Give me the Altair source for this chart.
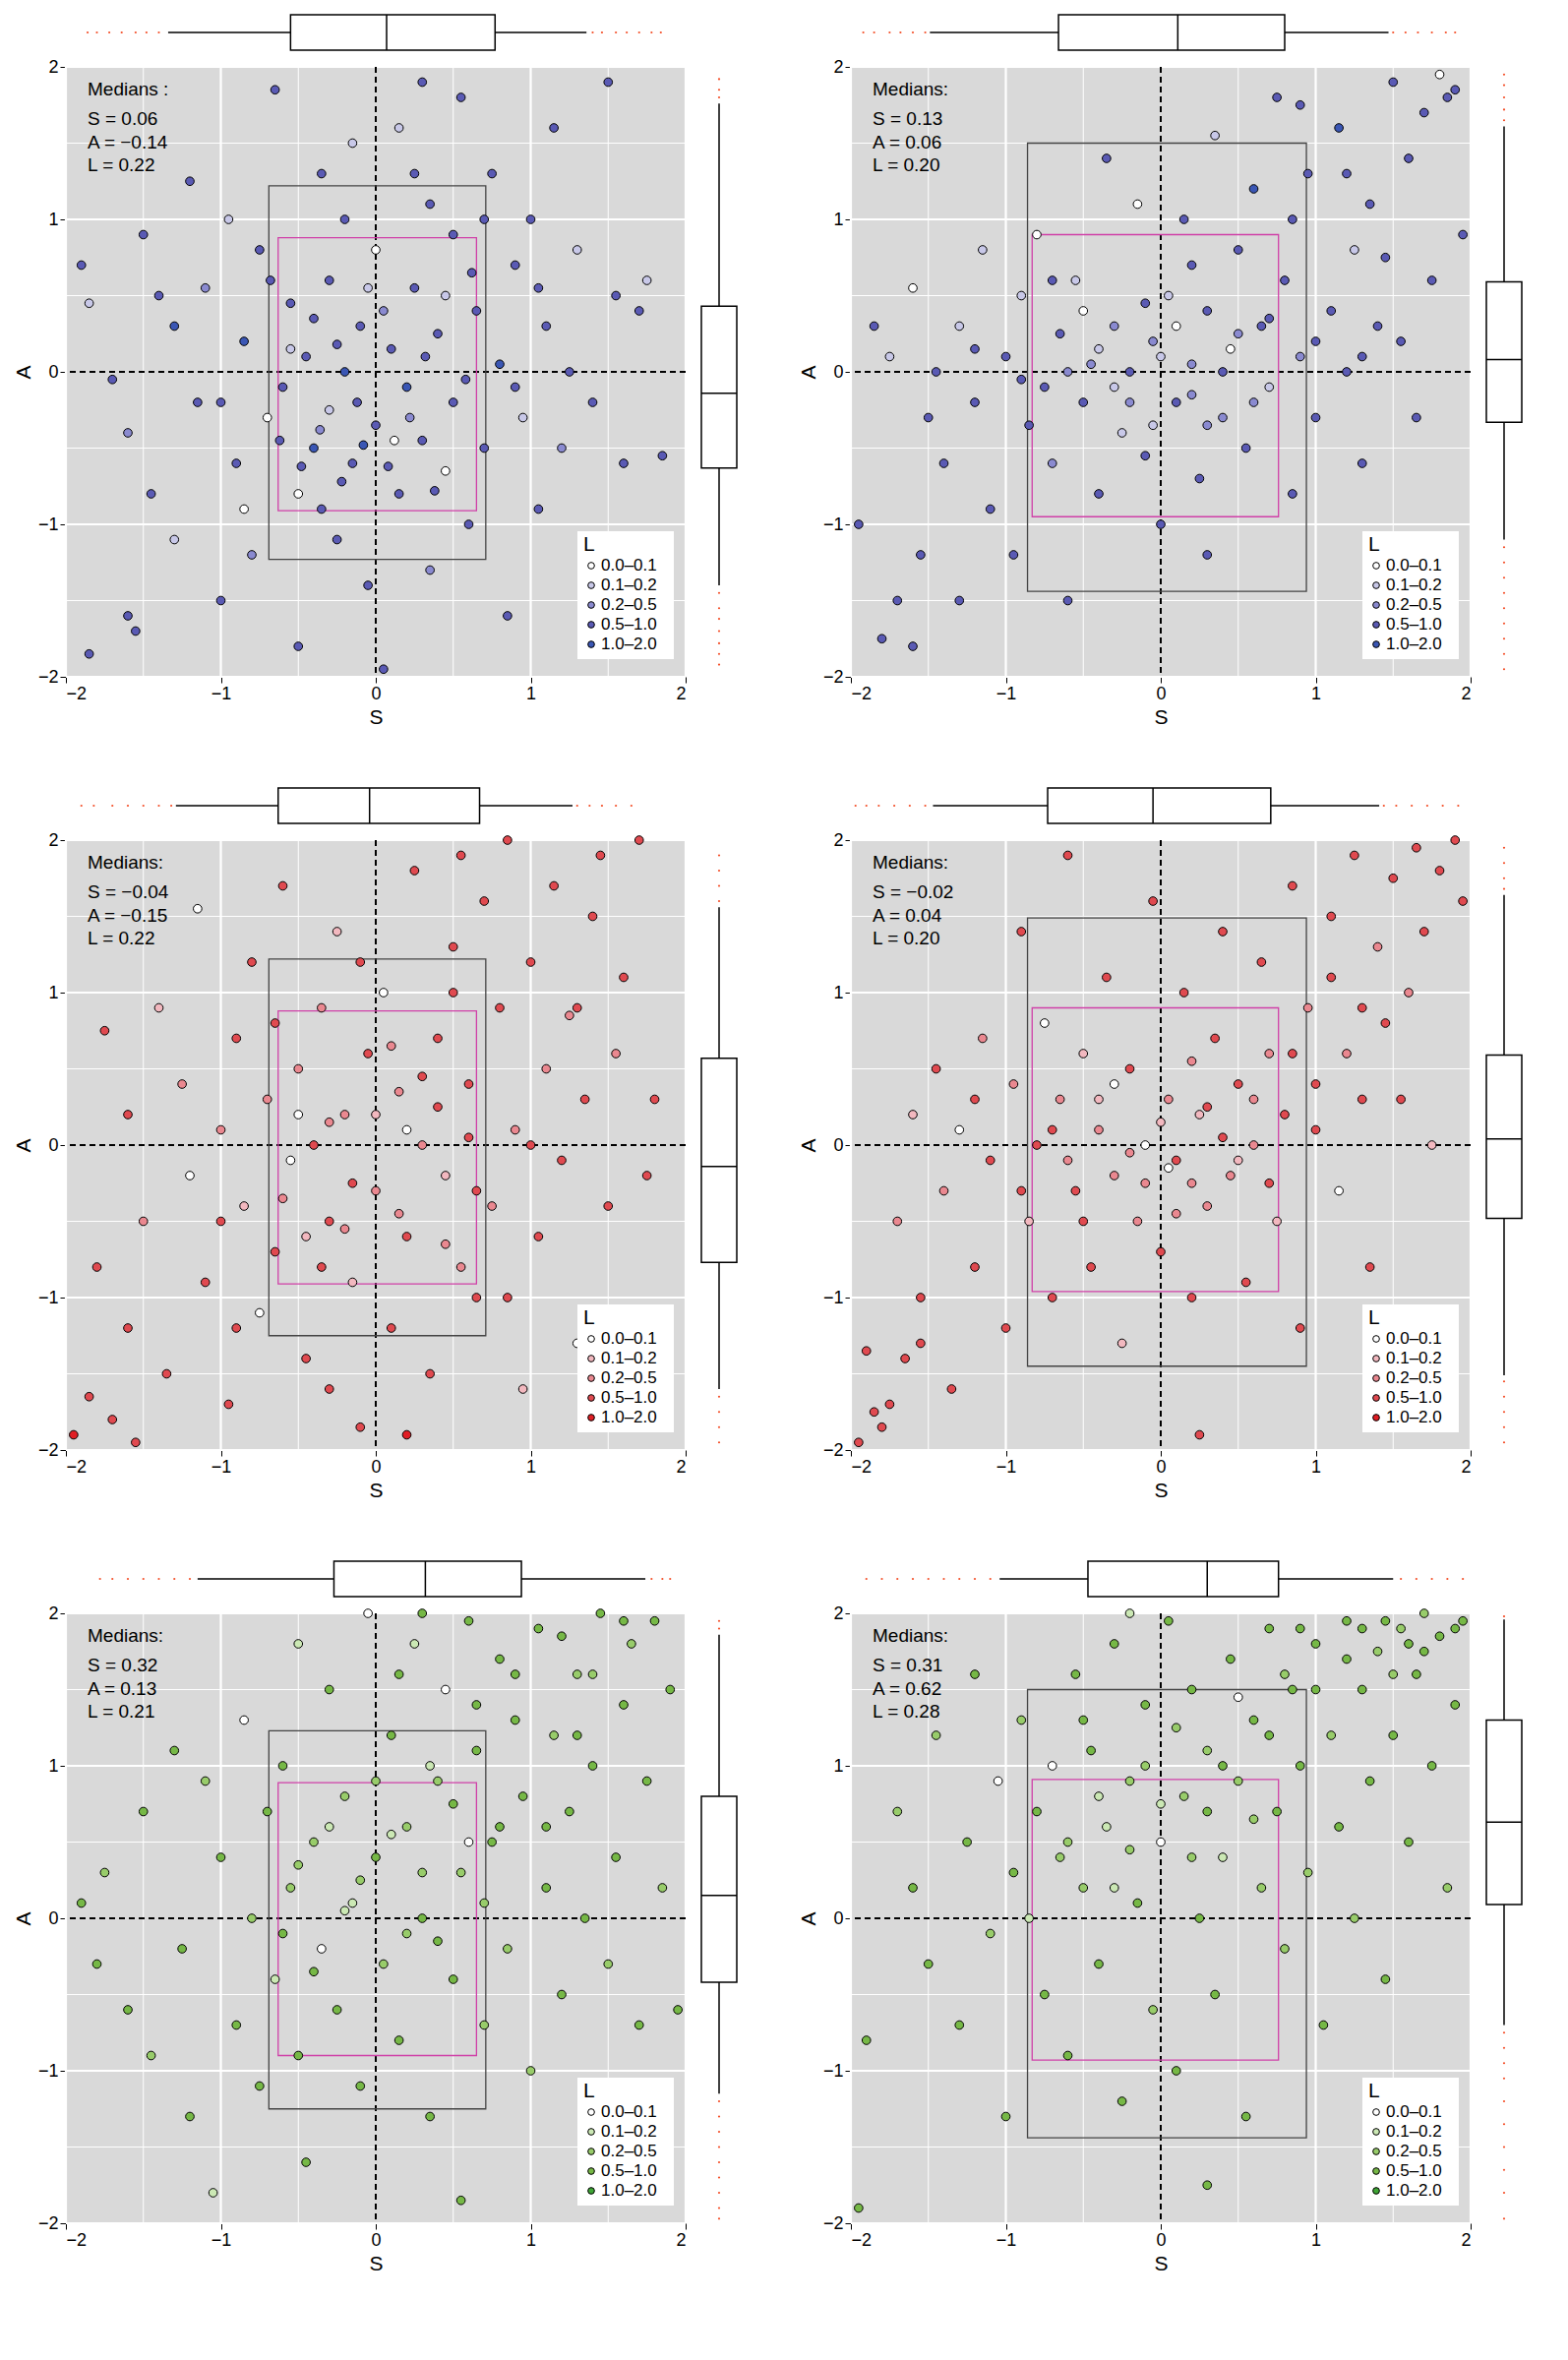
import altair as alt
import pandas as pd

W, H = 630, 620
FONT = "Liberation Sans"

BINS = ["0.0–0.1", "0.1–0.2", "0.2–0.5", "0.5–1.0", "1.0–2.0"]
BLUES = ["#ffffff", "#c8c8e8", "#8a8ad0", "#5a5ab4", "#3a56b4"]
REDS = ["#ffffff", "#f2b8bf", "#ea8890", "#e04a50", "#e01e24"]
GREENS = ["#ffffff", "#cbe8b4", "#98cc6a", "#76b846", "#3fa535"]

# points: (S, A, L-bin index)
P1 = [(-1.85,-1.85,3),(-1.6,-1.6,3),(-1.55,-1.7,3),(-1.9,0.7,3),(-1.85,0.45,1),(-1.7,-0.05,3),(-1.6,-0.4,2),(-1.5,0.9,3),(-1.45,-0.8,3),(-1.3,0.3,4),(-1.3,-1.1,1),(-1.2,1.25,3),(-1.15,-0.2,3),(-1.1,0.55,2),(-1.0,-1.5,3),(-0.95,1.0,1),(-0.9,-0.6,3),(-0.85,0.2,4),(-0.8,-1.2,2),(-0.75,0.8,3),(-0.7,-0.3,0),(-0.65,1.85,3),(-0.6,-0.1,3),(-0.55,0.45,3),(-0.5,-0.8,0),(-0.5,-1.8,3),(-0.45,0.1,3),(-0.4,-0.5,4),(-0.35,1.3,3),(-0.3,-0.25,1),(-0.3,0.6,3),(-0.25,-1.1,3),(-0.2,0.0,4),(-0.15,1.5,1),(-0.15,-0.6,3),(-0.1,0.3,3),(-0.05,-1.4,3),(0.0,0.8,0),(0.0,-0.35,3),(0.05,-1.95,3),(0.1,0.15,3),(0.15,1.6,1),(0.15,-0.8,3),(0.2,-0.1,4),(0.25,0.55,3),(0.3,-0.45,3),(0.35,1.1,3),(0.35,-1.3,2),(0.4,0.25,3),(0.45,-0.65,0),(0.5,0.9,3),(0.5,-0.2,3),(0.55,1.8,3),(0.6,-1.0,3),(0.65,0.4,3),(0.7,-0.5,3),(0.75,1.3,3),(0.8,0.05,4),(0.85,-1.6,3),(0.9,0.7,3),(0.95,-0.3,1),(1.0,1.0,3),(1.05,-0.9,3),(1.1,0.3,3),(1.15,1.6,3),(1.2,-0.5,2),(1.25,0.0,3),(1.3,0.8,1),(1.35,-1.2,3),(1.4,-0.2,3),(1.5,1.9,3),(1.55,0.5,3),(1.6,-0.6,3),(1.7,0.4,3),(1.75,0.6,1),(1.85,-0.55,3),(0.3,1.9,3),(-0.05,0.55,1),
      (-0.62,-0.45,3),(-0.48,-0.62,3),(-0.36,-0.38,2),(-0.22,-0.72,3),(-0.08,-0.48,4),(0.08,-0.62,3),(0.22,-0.3,2),(0.38,-0.78,3),(-0.55,0.15,1),(-0.4,0.35,3),(-0.25,0.18,3),(0.05,0.4,2),(0.32,0.1,3),(0.58,-0.05,3),(0.62,0.65,3),(-0.68,0.6,3),(0.45,0.5,1),(-0.12,-0.2,3),(0.12,-0.45,0),(-0.35,-0.9,3),(0.9,-0.1,3),(1.05,0.55,3),(-1.0,-0.2,3),(-0.85,-0.9,0),(0.7,1.0,3),(-0.2,1.0,3),(0.25,1.3,3),(-1.4,0.5,3)]
P2 = [(-1.95,-1.0,3),(-1.8,-1.75,3),(-1.7,-1.5,3),(-1.6,-1.8,3),(-1.55,-1.2,3),(-1.5,-0.3,3),(-1.85,0.3,3),(-1.75,0.1,1),(-1.6,0.55,0),(-1.45,0.0,3),(-1.4,-0.6,3),(-1.3,0.3,1),(-1.3,-1.5,3),(-1.2,-0.2,3),(-1.15,0.8,1),(-1.1,-0.9,3),(-1.0,0.1,3),(-0.95,-1.2,3),(-0.9,0.5,1),(-0.85,-0.35,3),(-0.8,0.9,0),(-0.75,-0.1,3),(-0.7,-0.6,2),(-0.65,0.25,3),(-0.6,-1.5,3),(-0.55,0.6,1),(-0.5,-0.2,3),(-0.45,0.05,2),(-0.4,-0.8,3),(-0.35,1.4,3),(-0.3,0.3,2),(-0.25,-0.4,1),(-0.2,0.0,3),(-0.15,1.1,0),(-0.1,-0.55,3),(-0.05,0.2,2),(0.0,-1.0,3),(0.05,0.5,1),(0.1,-0.2,3),(0.15,1.0,3),(0.2,0.05,2),(0.25,-0.7,3),(0.3,0.4,3),(0.35,1.55,1),(0.4,-0.3,2),(0.45,0.15,0),(0.5,0.8,3),(0.55,-0.5,3),(0.6,1.2,4),(0.65,0.3,3),(0.7,-0.1,1),(0.75,1.8,3),(0.8,0.6,3),(0.85,-0.8,3),(0.9,0.1,2),(0.95,1.3,3),(1.0,-0.3,3),(1.1,0.4,3),(1.15,1.6,4),(1.2,0.0,3),(1.25,0.8,1),(1.3,-0.6,3),(1.35,1.1,3),(1.4,0.3,3),(1.5,1.9,3),(1.5,-1.3,0),(1.55,0.2,3),(1.6,1.4,3),(1.65,-0.3,3),(1.7,1.7,3),(1.75,0.6,3),(1.8,1.95,0),(1.85,1.8,3),(1.9,1.85,3),(1.95,0.9,3),(0.9,1.75,3),(0.3,-1.2,3),
      (-0.6,0.0,2),(-0.4,0.15,1),(-0.2,-0.2,2),(0.0,0.1,1),(0.2,-0.15,2),(0.4,0.0,3),(0.6,-0.2,2),(-0.5,0.4,0),(0.1,0.3,0),(0.5,0.25,2),(-0.3,-0.1,1),(0.3,-0.35,2),(0.7,0.35,3),(-0.1,0.45,3),(1.0,0.2,3),(1.3,0.1,3),(-1.2,0.15,3),(-0.9,-0.05,3),(0.85,1.0,3),(0.2,0.7,3),(-0.7,0.6,3),(1.45,0.75,3),(1.2,1.3,3),(-0.05,-0.35,1)]
P3 = [(-1.95,-1.9,4),(-1.85,-1.65,3),(-1.7,-1.8,3),(-1.6,-1.2,3),(-1.55,-1.95,3),(-1.8,-0.8,3),(-1.75,0.75,3),(-1.6,0.2,3),(-1.5,-0.5,2),(-1.4,0.9,1),(-1.35,-1.5,3),(-1.25,0.4,2),(-1.2,-0.2,0),(-1.15,1.55,0),(-1.1,-0.9,3),(-1.0,0.1,2),(-0.95,-1.7,3),(-0.9,0.7,3),(-0.85,-0.4,1),(-0.8,1.2,3),(-0.75,-1.1,0),(-0.7,0.3,2),(-0.65,-0.7,3),(-0.6,1.7,3),(-0.55,-0.1,0),(-0.5,0.5,2),(-0.45,-1.4,3),(-0.4,0.0,3),(-0.35,0.9,2),(-0.3,-0.5,3),(-0.25,1.4,1),(-0.2,0.2,2),(-0.15,-0.9,1),(-0.1,-1.85,3),(-0.05,0.6,3),(0.0,-0.3,2),(0.05,1.0,0),(0.1,-1.2,3),(0.15,0.35,2),(0.2,-0.6,3),(0.25,1.8,3),(0.3,0.0,2),(0.35,-1.5,3),(0.4,0.7,3),(0.45,-0.2,1),(0.5,1.3,3),(0.55,-0.8,2),(0.6,0.4,3),(0.65,-1.0,3),(0.7,1.6,3),(0.75,-0.4,2),(0.8,0.9,3),(0.85,2.0,3),(0.9,0.1,2),(0.95,-1.6,1),(1.0,1.2,3),(1.05,-0.6,3),(1.1,0.5,2),(1.15,1.7,3),(1.2,-0.1,3),(1.25,0.85,2),(1.3,-1.3,0),(1.35,0.3,3),(1.4,1.5,3),(1.45,1.9,3),(1.5,-0.4,3),(1.55,0.6,2),(1.6,1.1,3),(1.7,2.0,3),(1.75,-0.2,3),(1.8,0.3,3),(0.2,-1.9,4),(-0.3,-1.6,3),(0.55,1.9,3),
      (-0.6,-0.35,2),(-0.45,-0.6,1),(-0.3,0.15,2),(-0.15,-0.25,3),(0.0,0.2,1),(0.15,-0.45,2),(0.3,0.45,3),(0.45,-0.65,2),(0.6,0.05,3),(-0.5,0.2,0),(0.2,0.1,0),(-0.2,-0.55,2),(0.4,0.25,3),(-0.65,0.8,3),(0.1,0.65,2),(-0.35,-0.8,3),(0.65,-0.3,3),(-1.0,-0.5,3),(1.0,0.0,3),(0.85,-1.0,3),(-0.9,-1.2,3),(0.5,1.0,3),(-0.1,1.2,3),(1.3,0.9,3)]
P4 = [(-1.95,-1.95,3),(-1.85,-1.75,3),(-1.8,-1.85,3),(-1.75,-1.7,3),(-1.9,-1.35,3),(-1.65,-1.4,3),(-1.7,-0.5,2),(-1.6,0.2,1),(-1.55,-1.0,3),(-1.45,0.5,3),(-1.4,-0.3,2),(-1.35,-1.6,3),(-1.3,0.1,0),(-1.2,-0.8,3),(-1.15,0.7,2),(-1.1,-0.1,3),(-1.0,-1.2,3),(-0.95,0.4,2),(-0.9,1.4,3),(-0.85,-0.5,1),(-0.8,0.0,3),(-0.75,0.8,0),(-0.7,-1.0,3),(-0.65,0.3,2),(-0.6,1.9,3),(-0.55,-0.3,3),(-0.5,0.6,1),(-0.45,-0.8,3),(-0.4,0.1,2),(-0.35,1.1,3),(-0.3,-0.2,2),(-0.25,-1.3,1),(-0.2,0.5,3),(-0.15,-0.5,2),(-0.1,0.0,0),(-0.05,1.6,3),(0.0,-0.7,3),(0.05,0.3,2),(0.1,-0.1,3),(0.15,1.0,3),(0.2,-1.0,3),(0.25,0.2,1),(0.3,-0.4,2),(0.35,0.7,3),(0.4,1.4,3),(0.45,-0.2,2),(0.5,0.4,3),(0.55,-0.9,3),(0.6,0.0,2),(0.65,1.2,3),(0.7,0.6,2),(0.75,-0.5,1),(0.8,0.2,3),(0.85,1.7,3),(0.9,-1.2,3),(0.95,0.9,2),(1.0,0.1,3),(1.1,1.5,3),(1.15,-0.3,0),(1.2,0.6,2),(1.25,1.9,3),(1.3,0.9,3),(1.35,-0.8,3),(1.4,1.3,2),(1.5,1.75,3),(1.55,0.3,3),(1.6,1.0,2),(1.65,1.95,3),(1.7,1.4,3),(1.75,0.0,1),(1.8,1.8,3),(1.9,2.0,3),(1.95,1.6,3),(0.25,-1.9,3),(-1.55,-1.3,3),
      (-0.6,-0.1,2),(-0.4,0.3,1),(-0.2,-0.05,2),(0.0,0.15,1),(0.2,-0.25,2),(0.4,0.05,3),(0.6,0.3,2),(-0.5,-0.5,3),(0.1,-0.45,2),(0.5,-0.1,1),(-0.3,0.4,0),(0.3,0.25,3),(0.7,-0.25,3),(-0.1,-0.25,2),(1.0,0.4,3),(1.3,0.3,3),(-1.2,0.3,3),(-0.9,-0.3,3),(0.85,0.6,3),(0.2,0.55,2),(-0.7,0.1,3),(1.45,0.8,3),(1.1,1.1,3),(0.05,-0.15,0)]
P5 = [(-1.9,0.1,3),(-1.8,-0.3,3),(-1.75,0.3,2),(-1.6,-0.6,3),(-1.5,0.7,3),(-1.45,-0.9,2),(-1.3,1.1,3),(-1.25,-0.2,3),(-1.2,-1.3,3),(-1.1,0.9,2),(-1.05,-1.8,1),(-1.0,0.4,3),(-0.9,-0.7,3),(-0.85,1.3,0),(-0.8,0.0,2),(-0.75,-1.1,3),(-0.7,0.7,3),(-0.65,-0.4,1),(-0.6,1.0,3),(-0.55,0.2,2),(-0.5,-0.9,3),(-0.45,-1.6,3),(-0.4,0.5,2),(-0.35,-0.2,0),(-0.3,1.5,3),(-0.25,-0.6,3),(-0.2,0.8,2),(-0.15,0.1,1),(-0.1,-1.1,3),(-0.05,2.0,0),(0.0,0.4,3),(0.05,-0.3,2),(0.1,1.2,3),(0.15,-0.8,3),(0.2,0.6,2),(0.25,1.8,1),(0.3,0.0,3),(0.35,-1.3,3),(0.4,0.9,2),(0.45,1.5,0),(0.5,-0.4,3),(0.55,0.3,2),(0.6,1.95,3),(0.65,1.1,3),(0.7,-0.7,2),(0.75,0.5,3),(0.8,1.7,3),(0.85,-0.2,2),(0.9,1.3,3),(0.95,0.8,3),(1.0,-1.0,2),(1.05,1.9,3),(1.1,0.2,3),(1.15,1.2,2),(1.2,-0.5,3),(1.25,0.7,3),(1.3,1.6,2),(1.35,0.0,3),(1.4,1.0,3),(1.45,2.0,3),(1.5,-0.3,2),(1.55,0.4,3),(1.6,1.4,3),(1.65,1.8,2),(1.7,-0.7,3),(1.75,0.9,3),(1.8,1.95,3),(1.85,0.2,2),(1.9,1.5,3),(1.95,-0.6,3),(0.55,-1.85,3),(0.3,2.0,3),(-0.5,1.8,1),
      (-0.5,0.35,2),(-0.3,0.6,1),(-0.1,0.25,2),(0.1,0.55,1),(0.3,0.3,2),(0.5,0.75,3),(0.7,0.1,2),(-0.4,-0.35,3),(0.2,-0.1,2),(0.6,0.5,0),(-0.2,0.05,1),(0.4,-0.15,3),(0.8,0.6,3),(0.0,0.9,2),(1.1,0.6,3),(1.3,1.2,3),(0.9,1.6,3),(1.2,1.85,3),(1.6,1.95,3),(1.4,1.6,2),(-0.6,-0.1,3),(0.65,1.4,3),(0.35,1.0,1),(0.15,1.6,3)]
P6 = [(-1.95,-1.9,3),(-1.9,-0.8,3),(-1.7,0.7,2),(-1.6,0.2,3),(-1.5,-0.3,3),(-1.45,1.2,2),(-1.3,-0.7,3),(-1.25,0.5,3),(-1.2,1.6,3),(-1.1,-0.1,2),(-1.05,0.9,0),(-1.0,-1.3,3),(-0.95,0.3,3),(-0.9,1.3,2),(-0.85,0.0,1),(-0.8,0.7,3),(-0.75,-0.5,3),(-0.7,1.0,0),(-0.65,0.4,2),(-0.6,-0.9,3),(-0.55,1.6,3),(-0.5,0.2,2),(-0.45,1.1,3),(-0.4,-0.3,3),(-0.35,0.6,1),(-0.3,1.8,3),(-0.25,-1.2,3),(-0.2,0.9,2),(-0.15,0.1,3),(-0.1,1.4,3),(-0.05,-0.6,2),(0.0,0.5,0),(0.05,1.95,3),(0.1,-1.0,3),(0.15,0.8,2),(0.2,1.5,3),(0.25,0.0,3),(0.3,1.1,2),(0.35,-0.5,3),(0.4,0.4,1),(0.45,1.7,3),(0.5,0.9,2),(0.55,-1.3,3),(0.6,1.3,3),(0.65,0.2,2),(0.7,1.9,3),(0.75,0.7,3),(0.8,-0.2,2),(0.85,1.5,3),(0.9,1.0,3),(0.95,0.3,2),(1.0,1.8,3),(1.05,-0.7,3),(1.1,1.2,2),(1.15,0.6,3),(1.2,1.95,3),(1.25,0.0,2),(1.3,1.5,3),(1.35,0.9,3),(1.4,1.75,2),(1.45,-0.4,3),(1.5,1.2,3),(1.55,1.9,2),(1.6,0.5,3),(1.65,1.6,3),(1.7,2.0,2),(1.75,1.0,3),(1.8,1.85,3),(1.85,0.2,2),(1.9,1.4,3),(1.95,1.95,3),(0.3,-1.75,3),(-0.2,2.0,1),(1.35,-1.1,3),
      (-0.6,0.5,2),(-0.4,0.8,1),(-0.2,0.45,2),(0.0,0.75,1),(0.2,0.4,2),(0.4,1.0,3),(0.6,0.65,2),(-0.5,1.3,3),(0.1,1.25,2),(0.5,1.45,0),(-0.3,0.2,1),(0.3,0.7,3),(0.7,1.2,3),(-0.1,1.0,2),(1.0,1.5,3),(1.3,1.9,3),(1.6,1.8,3),(1.5,1.6,2),(1.2,1.7,3),(0.9,1.9,3),(1.7,1.75,3),(0.8,1.6,2),(1.9,1.9,3),(1.45,1.95,3)]

# box stats: (whisker low, q1, median, q3, whisker high)
S_BOX = [(-1.34,-0.55,0.07,0.77,1.36), (-1.49,-0.66,0.11,0.80,1.47), (-1.29,-0.63,-0.04,0.67,1.27),
         (-1.47,-0.73,-0.05,0.71,1.41), (-1.15,-0.27,0.32,0.94,1.74), (-1.04,-0.47,0.30,0.76,1.50)]
A_BOX = [(-1.40,-0.63,-0.14,0.43,1.76), (-1.10,-0.33,0.08,0.59,1.61), (-1.60,-0.77,-0.14,0.57,1.56),
         (-1.51,-0.48,0.04,0.59,1.64), (-1.15,-0.42,0.15,0.80,1.86), (-0.70,0.09,0.63,1.30,1.96)]
S_RUG = [[-1.86,-1.8,-1.72,-1.64,-1.55,-1.48,-1.4,1.4,1.46,1.55,1.62,1.7,1.78,1.84],
         [-1.92,-1.85,-1.75,-1.68,-1.6,-1.52,1.5,1.58,1.66,1.75,1.84,1.9],
         [-1.9,-1.82,-1.7,-1.6,-1.5,-1.4,-1.32,1.3,1.38,1.46,1.55,1.65],
         [-1.97,-1.9,-1.82,-1.72,-1.62,-1.52,1.44,1.52,1.62,1.72,1.82,1.92],
         [-1.78,-1.7,-1.6,-1.5,-1.4,-1.3,-1.2,1.78,1.85,1.9],
         [-1.9,-1.8,-1.7,-1.6,-1.5,-1.4,-1.3,-1.2,-1.1,1.55,1.65,1.75,1.85,1.95]]
A_RUG = [[1.8,1.85,1.92,-1.45,-1.55,-1.62,-1.7,-1.78,-1.85,-1.92],
         [1.65,1.72,1.8,1.88,1.95,-1.15,-1.25,-1.35,-1.45,-1.55,-1.65,-1.75,-1.85,-1.95],
         [1.6,1.7,1.8,1.9,-1.65,-1.75,-1.85,-1.95],
         [1.68,1.75,1.85,1.95,-1.55,-1.65,-1.75,-1.85,-1.95],
         [1.9,1.95,-1.2,-1.3,-1.4,-1.5,-1.6,-1.7,-1.8,-1.9,-1.97],
         [1.98,-0.75,-0.85,-0.95,-1.05,-1.2,-1.35,-1.5,-1.65,-1.8,-1.97]]
# rectangles: (s0, s1, a0, a1)
BLACK_RECT = [(-0.69,0.71,-1.23,1.22), (-0.86,0.94,-1.44,1.50), (-0.69,0.71,-1.25,1.22),
              (-0.86,0.94,-1.45,1.49), (-0.69,0.71,-1.25,1.23), (-0.86,0.94,-1.44,1.50)]
PINK_RECT = [(-0.63,0.65,-0.91,0.88), (-0.83,0.76,-0.95,0.90), (-0.63,0.65,-0.91,0.88),
             (-0.83,0.76,-0.96,0.90), (-0.63,0.65,-0.90,0.89), (-0.83,0.76,-0.93,0.91)]
MEDIANS = [("0.06","−0.14","0.22"), ("0.13","0.06","0.20"), ("−0.04","−0.15","0.22"),
           ("−0.02","0.04","0.20"), ("0.32","0.13","0.21"), ("0.31","0.62","0.28")]
FIRST_LABEL = ["Medians :", "Medians:", "Medians:", "Medians:", "Medians:", "Medians:"]
FAMILY = ["blue", "blue", "red", "red", "green", "green"]
POINTS = [P1, P2, P3, P4, P5, P6]

# one shared fill scale, keyed by family + bin
FILL_DOMAIN = [f + str(k) for f in ["blue", "red", "green"] for k in range(5)]
FILL_RANGE = BLUES + REDS + GREENS
FILL = alt.Scale(domain=FILL_DOMAIN, range=FILL_RANGE)

SC = alt.Scale(domain=[-2, 2], nice=False)
MINUS = "replace(datum.label, '-', '−')"
GRID_MAJOR = [-2, -1, 1, 2]
GRID_MINOR = [-1.5, -0.5, 0.5, 1.5]
RUG_RED = "#f4502a"


def axis():
    return alt.Axis(values=[-2, -1, 0, 1, 2], format="d", grid=False, domain=False, labelExpr=MINUS,
                    labelFontSize=18, titleFontSize=21, titleFontWeight="normal", tickSize=6,
                    tickColor="black", labelColor="black", titleColor="black", labelFont=FONT, titleFont=FONT)


def panel(i):
    fam = FAMILY[i]
    pts = pd.DataFrame(POINTS[i], columns=["S", "A", "b"])
    pts["key"] = [fam + str(k) for k in pts["b"]]

    gmaj = pd.DataFrame({"v": GRID_MAJOR})
    gmin = pd.DataFrame({"v": GRID_MINOR})
    grid = (alt.Chart(gmin).mark_rule(color="white", strokeWidth=1).encode(x=alt.X("v:Q", scale=SC, axis=axis(), title="S"))
            + alt.Chart(gmin).mark_rule(color="white", strokeWidth=1).encode(y=alt.Y("v:Q", scale=SC, axis=axis(), title="A"))
            + alt.Chart(gmaj).mark_rule(color="white", strokeWidth=2.2).encode(x=alt.X("v:Q", scale=SC))
            + alt.Chart(gmaj).mark_rule(color="white", strokeWidth=2.2).encode(y=alt.Y("v:Q", scale=SC)))
    zero = pd.DataFrame({"v": [0]})
    dashed = (alt.Chart(zero).mark_rule(color="black", strokeWidth=2, strokeDash=[6, 4]).encode(x=alt.X("v:Q", scale=SC))
              + alt.Chart(zero).mark_rule(color="black", strokeWidth=2, strokeDash=[6, 4]).encode(y=alt.Y("v:Q", scale=SC)))

    b = BLACK_RECT[i]
    p = PINK_RECT[i]
    rect = (alt.Chart(pd.DataFrame([b], columns=["s0", "s1", "a0", "a1"])).mark_rect(
                fillOpacity=0, stroke="#444444", strokeWidth=1.3).encode(
                x=alt.X("s0:Q", scale=SC), x2="s1:Q", y=alt.Y("a0:Q", scale=SC), y2="a1:Q")
            + alt.Chart(pd.DataFrame([p], columns=["s0", "s1", "a0", "a1"])).mark_rect(
                fillOpacity=0, stroke="#d040a8", strokeWidth=1.3).encode(
                x=alt.X("s0:Q", scale=SC), x2="s1:Q", y=alt.Y("a0:Q", scale=SC), y2="a1:Q"))

    dots = alt.Chart(pts).mark_circle(size=75, stroke="black", strokeWidth=1, opacity=1).encode(
        x=alt.X("S:Q", scale=SC), y=alt.Y("A:Q", scale=SC),
        fill=alt.Fill("key:N", scale=FILL, legend=None))

    m = MEDIANS[i]
    tdf = pd.DataFrame({"t": [FIRST_LABEL[i], "S =  " + m[0], "A = " + ("" if m[1].startswith("−") else " ") + m[1],
                              "L =  " + m[2]], "y": [23, 53, 77, 100]})
    txt = alt.Chart(tdf).mark_text(align="left", fontSize=19, font=FONT, color="black").encode(
        x=alt.value(22), y=alt.Y("y:Q", scale=None), text="t:N")

    # legend drawn inside the panel, bottom-right
    ldf = pd.DataFrame({"lab": BINS, "key": [fam + str(k) for k in range(5)],
                        "y": [H - 113, H - 93, H - 73, H - 53, H - 33]})
    lbox = alt.Chart(pd.DataFrame({"t": ["L"]})).mark_rect(fill="white").encode(
        x=alt.value(W - 110), x2=alt.value(W - 12), y=alt.value(H - 148), y2=alt.value(H - 18))
    ltitle = alt.Chart(pd.DataFrame({"t": ["L"]})).mark_text(align="left", fontSize=21, font=FONT, color="black").encode(
        x=alt.value(W - 104), y=alt.value(H - 134), text="t:N")
    lsym = alt.Chart(ldf).mark_circle(size=45, stroke="black", strokeWidth=1, opacity=1).encode(
        x=alt.value(W - 96), y=alt.Y("y:Q", scale=None), fill=alt.Fill("key:N", scale=FILL, legend=None))
    llab = alt.Chart(ldf).mark_text(align="left", fontSize=17, font=FONT, color="black").encode(
        x=alt.value(W - 86), y=alt.Y("y:Q", scale=None), text="lab:N")

    scatter = alt.layer(grid, dashed, rect, dots, txt, lbox, ltitle, lsym, llab).properties(
        width=W, height=H, view=alt.ViewBackground(fill="#d9d9d9", stroke=None))

    lo, q1, md, q3, hi = S_BOX[i]
    sb = pd.DataFrame({"lo": [lo], "q1": [q1], "md": [md], "q3": [q3], "hi": [hi]})
    sr = pd.DataFrame({"v": S_RUG[i]})
    top = alt.layer(
        alt.Chart(sb).mark_rule(color="black", strokeWidth=1.5).encode(x=alt.X("lo:Q", scale=SC, axis=None), x2="hi:Q", y=alt.value(20)),
        alt.Chart(sb).mark_rect(fill="white", stroke="black", strokeWidth=1.5).encode(x=alt.X("q1:Q", scale=SC), x2="q3:Q", y=alt.value(2), y2=alt.value(38)),
        alt.Chart(sb).mark_rule(color="black", strokeWidth=1.5).encode(x=alt.X("md:Q", scale=SC), y=alt.value(2), y2=alt.value(38)),
        alt.Chart(sr).mark_circle(color=RUG_RED, size=5, opacity=1).encode(x=alt.X("v:Q", scale=SC), y=alt.value(20)),
    ).properties(width=W, height=40, view=alt.ViewBackground(fill="white", stroke=None))

    lo, q1, md, q3, hi = A_BOX[i]
    ab = pd.DataFrame({"lo": [lo], "q1": [q1], "md": [md], "q3": [q3], "hi": [hi]})
    ar = pd.DataFrame({"v": A_RUG[i]})
    right = alt.layer(
        alt.Chart(ab).mark_rule(color="black", strokeWidth=1.5).encode(y=alt.Y("lo:Q", scale=SC, axis=None), y2="hi:Q", x=alt.value(20)),
        alt.Chart(ab).mark_rect(fill="white", stroke="black", strokeWidth=1.5).encode(y=alt.Y("q1:Q", scale=SC), y2="q3:Q", x=alt.value(2), x2=alt.value(38)),
        alt.Chart(ab).mark_rule(color="black", strokeWidth=1.5).encode(y=alt.Y("md:Q", scale=SC), x=alt.value(2), x2=alt.value(38)),
        alt.Chart(ar).mark_circle(color=RUG_RED, size=5, opacity=1).encode(y=alt.Y("v:Q", scale=SC), x=alt.value(20)),
    ).properties(width=40, height=H, view=alt.ViewBackground(fill="white", stroke=None))

    return alt.vconcat(top, alt.hconcat(scatter, right, spacing=12), spacing=6)


rows = [alt.hconcat(panel(2 * r), panel(2 * r + 1), spacing=60) for r in range(3)]
chart = alt.vconcat(*rows, spacing=60).configure_view(stroke=None).configure(background="white")
chart.save("out.html", embed_options={"renderer": "svg", "actions": False})
